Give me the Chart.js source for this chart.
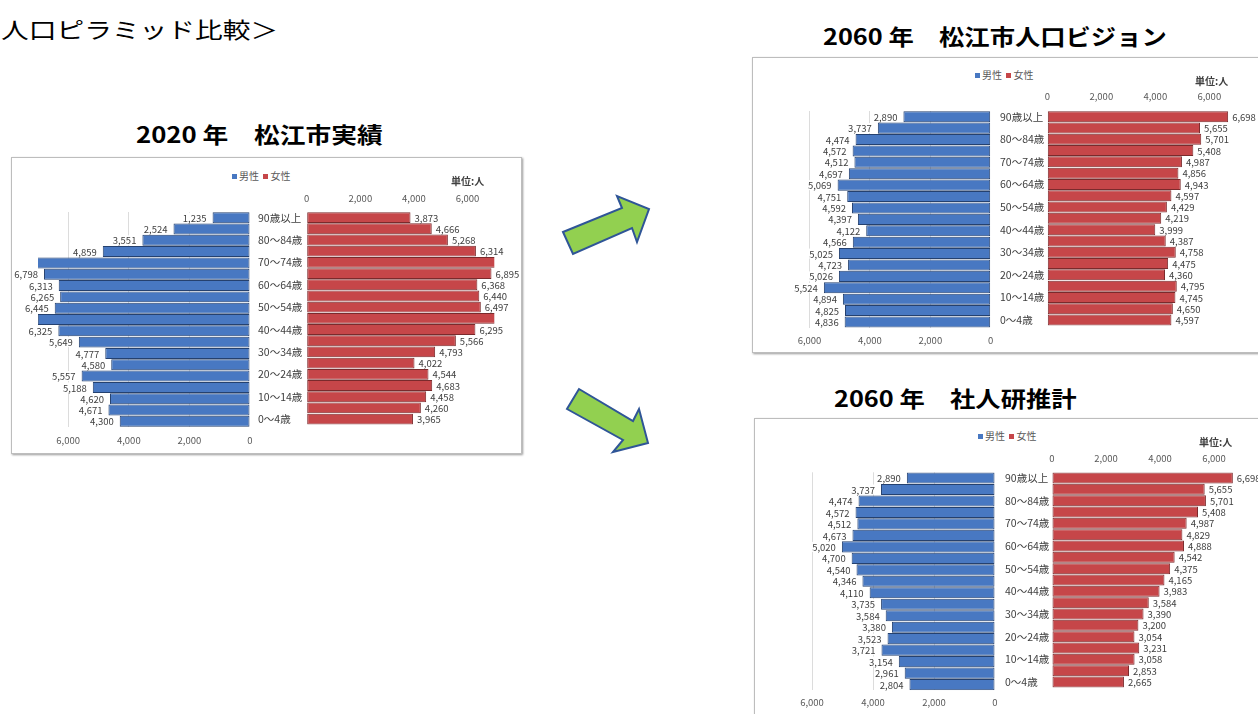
<!DOCTYPE html>
<html lang="ja">
<head>
<meta charset="utf-8">
<script src="https://cdn.jsdelivr.net/npm/chart.js@4.4.1/dist/chart.umd.min.js"></script>
<style>
html,body{margin:0;padding:0;background:#fff;}
#page{position:relative;width:1258px;height:714px;overflow:hidden;font-family:"Noto Sans CJK JP","Noto Sans",sans-serif;}
.box{position:absolute;border:1px solid #bdbdbd;box-shadow:1px 1px 2px rgba(0,0,0,0.4);background:#fff;}
.title{position:absolute;white-space:nowrap;transform-origin:left top;color:#000;line-height:1;}
canvas{position:absolute;}
.legend{position:absolute;font-size:10px;color:#595959;white-space:nowrap;line-height:10px;}
.legend i{display:inline-block;width:5px;height:5px;margin:0 2px 1px 0;vertical-align:middle;}
.unit{position:absolute;font-size:10px;color:#404040;white-space:nowrap;line-height:10px;font-weight:bold;}
svg{position:absolute;left:0;top:0;}
</style>
</head>
<body>
<div id="page"></div>
<script>
// ---------------- DATA ----------------
const ageLabels = ['90歳以上','85～89歳','80～84歳','75～79歳','70～74歳','65～69歳','60～64歳','55～59歳','50～54歳','45～49歳','40～44歳','35～39歳','30～34歳','25～29歳','20～24歳','15～19歳','10～14歳','5～9歳','0～4歳'];
// 2020年 松江市実績 (70～74歳, 45～49歳 are clipped in the original; estimated)
const male2020   = [1235,2524,3551,4859,7380,6798,6313,6265,6445,7004,6325,5649,4777,4580,5557,5188,4620,4671,4300];
const female2020 = [3873,4666,5268,6314,7719,6895,6368,6440,6497,7046,6295,5566,4793,4022,4544,4683,4458,4260,3965];
// 2060年 松江市人口ビジョン
const maleVision2060   = [2890,3737,4474,4572,4512,4697,5069,4751,4592,4397,4122,4566,5025,4723,5026,5524,4894,4825,4836];
const femaleVision2060 = [6698,5655,5701,5408,4987,4856,4943,4597,4429,4219,3999,4387,4758,4475,4360,4795,4745,4650,4597];
// 2060年 社人研推計
const maleIpss2060   = [2890,3737,4474,4572,4512,4673,5020,4700,4540,4346,4110,3735,3584,3380,3523,3721,3154,2961,2804];
const femaleIpss2060 = [6698,5655,5701,5408,4987,4829,4888,4542,4375,4165,3983,3584,3390,3200,3054,3231,3058,2853,2665];
const axisTicks = [0,2000,4000,6000];
const AXIS_MAX = 7000;
const seriesNames = ['男性','女性'];
const unitLabel = '単位:人';
// --------------------------------------

const FONT = '"Noto Sans CJK JP","Noto Sans",sans-serif';
const BLUE = '#4878C2', BLUE_B = '#25416F';
const RED = '#C64649', RED_B = '#7A2A2C';
const page = document.getElementById('page');
const fmt = v => String(v).replace(/\B(?=(\d{3})+(?!\d))/g, ',');

function el(tag, cls, css, html) {
  const e = document.createElement(tag);
  if (cls) e.className = cls;
  Object.assign(e.style, css || {});
  if (html !== undefined) e.innerHTML = html;
  page.appendChild(e);
  return e;
}

const labelPlugin = {
  id: 'vlabels',
  afterDatasetsDraw(chart, args, opts) {
    const ctx = chart.ctx;
    const meta = chart.getDatasetMeta(0);
    const data = chart.data.datasets[0].data;
    ctx.save();
    ctx.font = '9.5px ' + FONT;
    ctx.textBaseline = 'middle';
    meta.data.forEach((bar, i) => {
      const v = data[i];
      if (v > AXIS_MAX) return;
      const txt = fmt(v);
      const w = ctx.measureText(txt).width;
      const male = opts.side === 'male';
      const x = male ? bar.x - opts.gap : bar.x + opts.gap;
      const bx = male ? x - w - 1 : x - 1;
      ctx.fillStyle = '#ffffff';
      ctx.fillRect(bx, bar.y - 5, w + 2, 10);
      ctx.fillStyle = '#404040';
      ctx.textAlign = male ? 'right' : 'left';
      ctx.fillText(txt, x, bar.y + 0.5);
    });
    ctx.restore();
  }
};

function makeCanvas(left, top, w, h) {
  const c = document.createElement('canvas');
  c.width = w; c.height = h;
  c.style.left = left + 'px'; c.style.top = top + 'px';
  c.style.width = w + 'px'; c.style.height = h + 'px';
  page.appendChild(c);
  return c;
}

function makePyramid(p) {
  const axisH = 22;
  // ---- male (left) ----
  const mPlotLeft = p.mZero - AXIS_MAX * p.mScale;
  const mL = p.boxLeft + 2;
  const mW = Math.round(p.mZero + 10 - mL);
  const mT = Math.round(p.top - 4);
  const mH = Math.round(p.bottom + axisH + 3 - mT);
  const mc = makeCanvas(mL, mT, mW, mH);
  new Chart(mc, {
    type: 'bar',
    data: { labels: ageLabels, datasets: [{ label: seriesNames[0], data: p.male,
      backgroundColor: BLUE, borderColor: BLUE_B, borderWidth: 1, borderSkipped: false,
      categoryPercentage: 1, barPercentage: 0.97 }] },
    options: {
      indexAxis: 'y', responsive: false, animation: false, devicePixelRatio: 1,
      layout: { padding: { left: mPlotLeft - mL, right: mL + mW - p.mZero, top: p.top - mT, bottom: mH - (p.bottom - mT) - axisH } },
      plugins: { legend: { display: false }, tooltip: { enabled: false }, vlabels: { side: 'male', gap: 6 } },
      scales: {
        x: { type: 'linear', min: 0, max: AXIS_MAX, reverse: true, position: 'bottom',
          afterBuildTicks: s => { s.ticks = axisTicks.concat([AXIS_MAX]).map(v => ({ value: v })); },
          afterFit: s => { s.height = axisH; },
          ticks: { callback: v => axisTicks.includes(v) ? fmt(v) : null, font: { size: 9.5, family: FONT }, color: '#595959', padding: p.mTickY - p.bottom - 5.7, maxRotation: 0, autoSkip: false },
          grid: { drawTicks: false, color: c => (c.tick && [2000, 4000, 6000].includes(c.tick.value)) ? '#dcdcdc' : 'rgba(0,0,0,0)' },
          border: { display: false } },
        y: { type: 'category', display: false }
      }
    },
    plugins: [labelPlugin]
  });
  // ---- female (right) ----
  const fPlotRight = p.fZero + AXIS_MAX * p.fScale;
  const fL = Math.floor(p.labelX - 1);
  const fW = Math.round(fPlotRight + 34 - fL);
  const fT = Math.round(p.top - axisH - 3);
  const fH = Math.round(p.bottom + 4 - fT);
  const fc = makeCanvas(fL, fT, fW, fH);
  new Chart(fc, {
    type: 'bar',
    data: { labels: ageLabels, datasets: [{ label: seriesNames[1], data: p.female,
      backgroundColor: RED, borderColor: RED_B, borderWidth: 1, borderSkipped: false,
      categoryPercentage: 1, barPercentage: 0.97 }] },
    options: {
      indexAxis: 'y', responsive: false, animation: false, devicePixelRatio: 1,
      layout: { padding: { left: p.labelX - fL, right: fL + fW - fPlotRight, top: p.top - axisH - fT, bottom: fT + fH - p.bottom } },
      plugins: { legend: { display: false }, tooltip: { enabled: false }, vlabels: { side: 'female', gap: 4 } },
      scales: {
        x: { type: 'linear', min: 0, max: AXIS_MAX, position: 'top',
          afterBuildTicks: s => { s.ticks = axisTicks.concat([AXIS_MAX]).map(v => ({ value: v })); },
          afterFit: s => { s.height = axisH; },
          ticks: { callback: v => axisTicks.includes(v) ? fmt(v) : null, font: { size: 9.5, family: FONT }, color: '#595959', padding: p.top - p.fTickY - 5.7, maxRotation: 0, autoSkip: false },
          grid: { drawTicks: false, color: c => (c.tick && c.tick.value === AXIS_MAX) ? '#dcdcdc' : 'rgba(0,0,0,0)' },
          border: { display: false } },
        y: { type: 'category', position: 'left',
          afterFit: s => { s.width = p.fZero - p.labelX; },
          ticks: { crossAlign: 'far', autoSkip: false, padding: 0, font: { size: 10.5, family: FONT }, color: '#404040',
            callback: (v, i) => i % 2 === 0 ? ageLabels[i] : '' },
          grid: { display: false }, border: { display: false } }
      }
    },
    plugins: [labelPlugin]
  });
  // legend + unit
  el('div', 'legend', { left: p.legendX + 'px', top: (p.legendY - 5) + 'px' },
    '<i style="background:' + BLUE + '"></i>' + seriesNames[0] + '&nbsp;&nbsp;<i style="background:' + RED + '"></i>' + seriesNames[1]);
  el('div', 'unit', { left: p.unitX + 'px', top: (p.unitY - 5) + 'px' }, unitLabel);
}

// boxes
el('div', 'box', { left: '11px', top: '157px', width: '509px', height: '295px' });
el('div', 'box', { left: '752px', top: '57px', width: '530px', height: '294px' });
el('div', 'box', { left: '754px', top: '418px', width: '530px', height: '320px' });

makePyramid({ male: male2020, female: female2020, boxLeft: 11, mZero: 250, mScale: 0.0303, fZero: 306.7, fScale: 0.0268,
  top: 212, bottom: 427, mTickY: 440, fTickY: 198, labelX: 258, legendX: 232, legendY: 176, unitX: 451, unitY: 181 });
makePyramid({ male: maleVision2060, female: femaleVision2060, boxLeft: 752, mZero: 990.7, mScale: 0.0302, fZero: 1047.3, fScale: 0.027,
  top: 111, bottom: 327.7, mTickY: 340, fTickY: 96.7, labelX: 1000, legendX: 975, legendY: 75, unitX: 1195, unitY: 81 });
makePyramid({ male: maleIpss2060, female: femaleIpss2060, boxLeft: 755, mZero: 995, mScale: 0.0305, fZero: 1052, fScale: 0.027,
  top: 472.3, bottom: 690.3, mTickY: 702.3, fTickY: 458.3, labelX: 1005, legendX: 978, legendY: 436, unitX: 1199, unitY: 442 });

// titles
function title(text, cx, cy, size, weight, sx, alignLeft) {
  const d = el('div', 'title', { fontSize: size + 'px', fontWeight: weight }, text);
  const w = d.offsetWidth * sx, h = d.offsetHeight;
  d.style.left = (alignLeft ? cx : cx - w / 2) + 'px';
  d.style.top = (cy - h / 2) + 'px';
  d.style.transform = 'scaleX(' + sx + ')';
}
title('人口ピラミッド比較＞', 1, 28, 22, 'normal', 1.26, true);
title('2020 年　松江市実績', 259, 133, 22, 'bold', 1.17);
title('2060 年　松江市人口ビジョン', 995, 35, 22, 'bold', 1.15);
title('2060 年　社人研推計', 955, 397, 22, 'bold', 1.15);

// arrows
const svgNS = 'http://www.w3.org/2000/svg';
const svg = document.createElementNS(svgNS, 'svg');
svg.setAttribute('width', 1258); svg.setAttribute('height', 714);
[
  '563,232 622,208 617,196 649,209 637,242 632,228 573,254',
  '579,389 633,421 639,409 648,443 613,452 623,440 567,409'
].forEach(pts => {
  const pg = document.createElementNS(svgNS, 'polygon');
  pg.setAttribute('points', pts);
  pg.setAttribute('fill', '#92D050');
  pg.setAttribute('stroke', '#2F5597');
  pg.setAttribute('stroke-width', '2');
  pg.setAttribute('stroke-linejoin', 'miter');
  svg.appendChild(pg);
});
page.appendChild(svg);
</script>
</body>
</html>
